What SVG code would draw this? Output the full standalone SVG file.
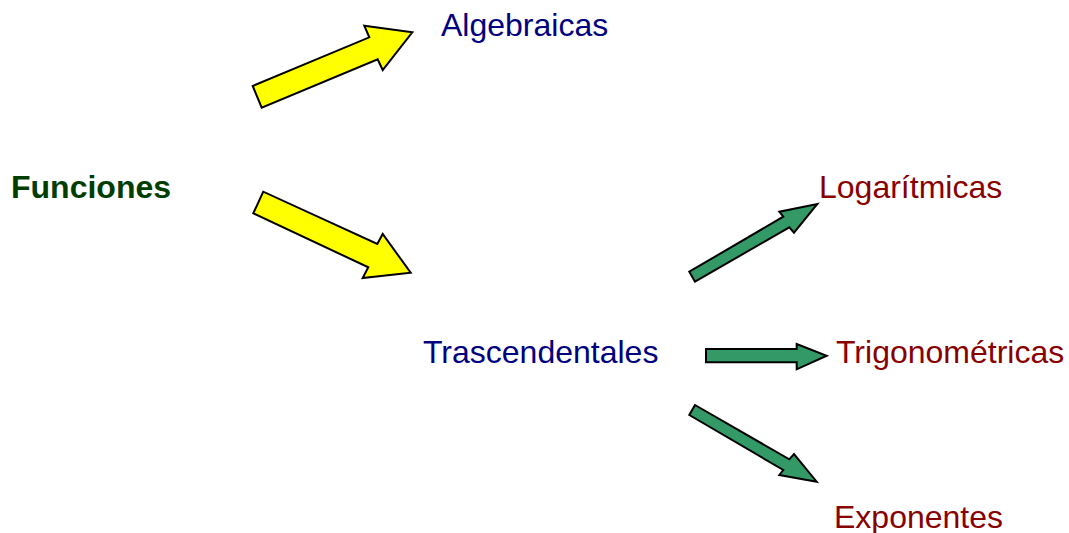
<svg xmlns="http://www.w3.org/2000/svg" width="1069" height="533" viewBox="0 0 1069 533">
<style>
.t{font-family:"Liberation Sans",Arial,sans-serif;font-size:32px}
.blue{fill:#000080}
.red{fill:#880000}
.main{fill:#003d00;font-weight:bold}
.ya{fill:#ffff00;stroke:#000;stroke-width:2;stroke-linejoin:miter}
.ga{fill:#339966;stroke:#000;stroke-width:2;stroke-linejoin:miter}
</style>
<rect width="1069" height="533" fill="#fff"/>
<g id="connectors">
<polygon class="ya" points="261.7,107.7 252.7,86 369.3,37.3 364.3,25.7 412.3,32.3 382.7,70 377.7,59.3"/>
<polygon class="ya" points="263.3,191.7 253.3,213.3 368.3,267.3 362.7,278 410.7,272.7 382.7,234 377.3,244"/>
<polygon class="ga" points="695,281.7 689.3,271.7 783.3,216.7 779.3,211.7 817.3,204 794,232.7 789.3,227.3"/>
<polygon class="ga" points="706,349 706,362.3 796.7,362.3 796.7,369.3 826.7,355.7 796.7,344 796.7,349"/>
<polygon class="ga" points="695,405 689.3,415 783.3,470 779.3,475 816.7,481.7 794,454 789.3,459.3"/>
</g>
<g id="funciones"><text class="t main" x="11" y="198">Funciones</text></g>
<g id="algebraicas"><text class="t blue" x="441" y="36">Algebraicas</text></g>
<g id="trascendentales"><text class="t blue" x="423" y="363">Trascendentales</text></g>
<g id="logaritmicas"><text class="t red" x="819" y="198">Logarítmicas</text></g>
<g id="trigonometricas"><text class="t red" x="836" y="363">Trigonométricas</text></g>
<g id="exponentes"><text class="t red" x="834" y="528">Exponentes</text></g>
</svg>
